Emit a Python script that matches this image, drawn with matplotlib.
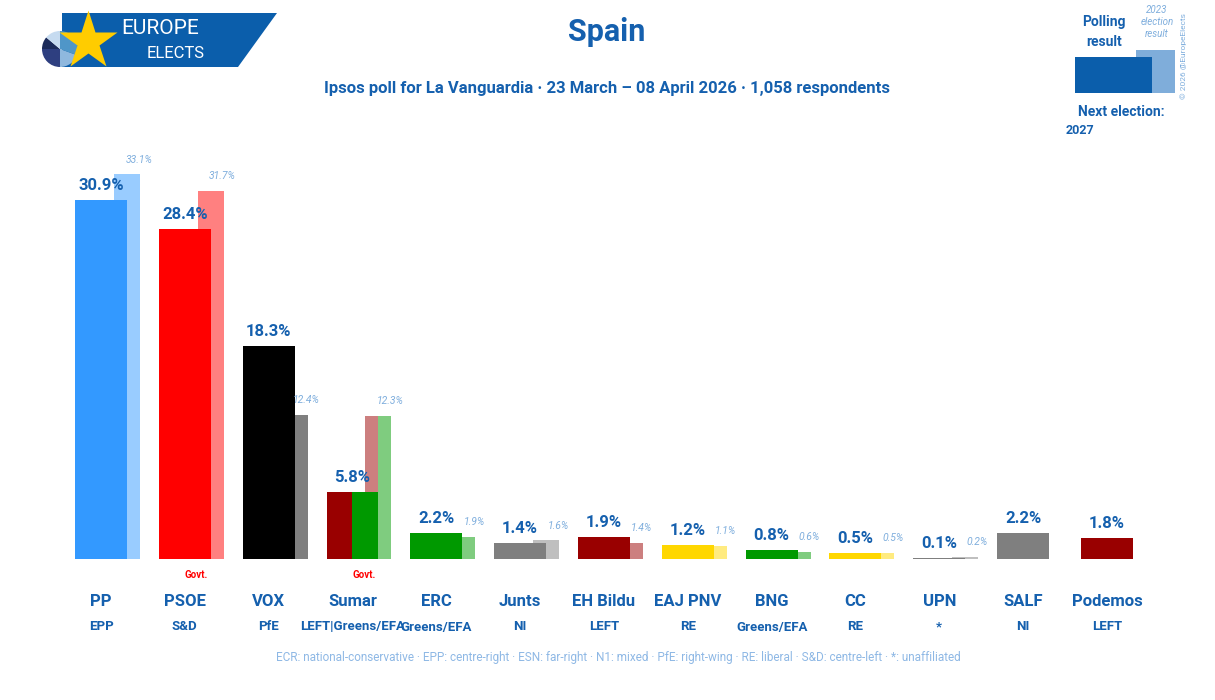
import numpy as np
import matplotlib.pyplot as plt
from matplotlib import transforms
from matplotlib.patches import Polygon, Rectangle, Wedge

parties = ["PP", "PSOE", "VOX", "Sumar", "ERC", "Junts", "EH Bildu", "EAJ PNV",
           "BNG", "CC", "UPN", "SALF", "Podemos"]
groups = ["EPP", "S&D", "PfE", "LEFT|Greens/EFA", "Greens/EFA", "NI", "LEFT", "RE",
          "Greens/EFA", "RE", "*", "NI", "LEFT"]
poll = [30.9, 28.4, 18.3, 5.8, 2.2, 1.4, 1.9, 1.2, 0.8, 0.5, 0.1, 2.2, 1.8]
prev = [33.1, 31.7, 12.4, 12.3, 1.9, 1.6, 1.4, 1.1, 0.6, 0.5, 0.2, None, None]
govt = ["PSOE", "Sumar"]

colors = ["#3399FF", "#FF0000", "#000000", ["#990000", "#009900"], "#009900", "#7F7F7F",
          "#990000", "#FFD700", "#009900", "#FFD700", "#7F7F7F", "#7F7F7F", "#990000"]
light = ["#99CCFF", "#FF8080", "#7F7F7F", ["#CC7F7F", "#7FCC7F"], "#7FCC7F", "#BFBFBF",
         "#CC7F7F", "#FFEB80", "#7FCC7F", "#FFEB80", "#BFBFBF", None, None]

blue = "#1560AE"
pale = "#7FAEDD"
font = "Roboto"
plt.rcParams["font.family"] = font

W, H = 1215, 700
fig = plt.figure(figsize=(W / 100, H / 100), dpi=100)

# bar axes: baseline at y=559 px, 11.62 px per percent, group spacing 83.83 px
left_px, right_px, base_px, top_px = 40, 1175, 559, 140
ax = fig.add_axes([left_px / W, 1 - base_px / H, (right_px - left_px) / W, (base_px - top_px) / H])
sp = 83.83
ax.set_xlim((left_px - 101) / sp, (right_px - 101) / sp)
ax.set_ylim(0, (base_px - top_px) / 11.62)
ax.axis("off")

x = np.arange(len(parties))
mw, pw, po = 0.62, 0.31, 0.31

for i in range(len(parties)):
    c, lc = colors[i], light[i]
    if prev[i] is not None:
        if isinstance(lc, list):
            ax.bar(x[i] + po - pw / 4, prev[i], pw / 2, color=lc[0], zorder=1)
            ax.bar(x[i] + po + pw / 4, prev[i], pw / 2, color=lc[1], zorder=1)
        else:
            ax.bar(x[i] + po, prev[i], pw, color=lc, zorder=1)
        ax.annotate(f"{prev[i]}%", (x[i] + po + 0.14, prev[i]), xytext=(0, 7),
                    textcoords="offset points", ha="center", va="bottom",
                    fontsize=7.5, style="italic", color=pale)
    if isinstance(c, list):
        ax.bar(x[i] - mw / 4, poll[i], mw / 2, color=c[0], zorder=2)
        ax.bar(x[i] + mw / 4, poll[i], mw / 2, color=c[1], zorder=2)
    else:
        ax.bar(x[i], poll[i], mw, color=c, zorder=2)
    ax.annotate(f"{poll[i]}%", (x[i], poll[i]), xytext=(0, 5),
                textcoords="offset points", ha="center", va="bottom",
                fontsize=12, fontweight="bold", color=blue)

tr = transforms.blended_transform_factory(ax.transData, fig.transFigure)
for i, p in enumerate(parties):
    fig.text(x[i], 1 - 601 / H, p, transform=tr, ha="center", va="center",
             fontsize=12, fontweight="bold", color=blue)
    fig.text(x[i], 1 - 627 / H, groups[i], transform=tr, ha="center", va="center",
             fontsize=9.5, fontweight="bold", color=blue)
    if p in govt:
        fig.text(x[i] + 0.14, 1 - 575 / H, "Govt.", transform=tr, ha="center",
                 va="center", fontsize=7, fontweight="bold", color="#FF0000")

# decoration layer in pixel coordinates
ov = fig.add_axes([0, 0, 1, 1])
ov.set_xlim(0, W)
ov.set_ylim(H, 0)
ov.axis("off")
ov.patch.set_alpha(0)

ov.text(607, 32, "Spain", ha="center", va="center", fontsize=22, fontweight="bold", color=blue)
ov.text(607, 88, "Ipsos poll for La Vanguardia · 23 March – 08 April 2026 · 1,058 respondents",
        ha="center", va="center", fontsize=12, fontweight="bold", color=blue)
ov.text(618, 657, "ECR: national-conservative · EPP: centre-right · ESN: far-right · N1: mixed · "
        "PfE: right-wing · RE: liberal · S&D: centre-left · *: unaffiliated",
        ha="center", va="center", fontsize=8.5, color="#8EB8E5")

# logo
ov.add_patch(Polygon([(62, 13), (277, 13), (238, 67), (62, 67)], closed=True,
                     facecolor="#0B5EAB", edgecolor="none"))
pie_cols = ["#8FB8DE", "#2E3F80", "#1C2B5A", "#C6DBF0", "#4F96C8"]
a = 20
for span, pc in zip([70, 90, 40, 50, 110], pie_cols):
    ov.add_patch(Wedge((60, 49), 18, a, a + span, facecolor=pc, edgecolor="none"))
    a += span
ov.plot(88, 41, marker="*", markersize=44, color="#FFCC00", markeredgecolor="none")
ov.text(160, 29, "EUROPE", ha="center", va="center", fontsize=15, color="white")
ov.text(176, 53, "ELECTS", ha="center", va="center", fontsize=12, color="white")

# legend top right
ov.add_patch(Rectangle((1136, 50), 39, 43, facecolor="#7FADDA", edgecolor="none"))
ov.add_patch(Rectangle((1075, 57), 77, 36, facecolor="#0B5EAB", edgecolor="none"))
ov.text(1104, 32, "Polling\nresult", ha="center", va="center", fontsize=10,
        fontweight="bold", color=blue, linespacing=1.5)
ov.text(1157, 22, "2023\nelection\nresult", ha="center", va="center", fontsize=7,
        style="italic", color=pale, linespacing=1.3)
ov.text(1121, 112, "Next election:", ha="center", va="center", fontsize=10,
        fontweight="bold", color=blue)
ov.text(1080, 131, "2027", ha="center", va="center", fontsize=9,
        fontweight="bold", color=blue)
ov.text(1184, 56, "© 2026 @EuropeElects", ha="center", va="center", fontsize=6,
        rotation=90, color=pale)

fig.savefig("out.png", dpi=100)
